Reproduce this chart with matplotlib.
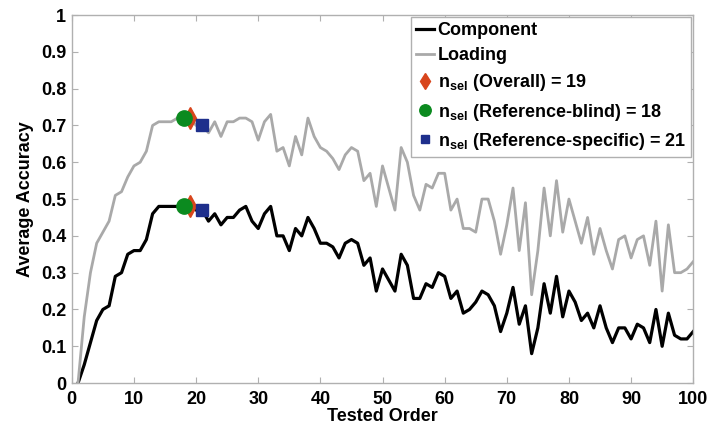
import numpy as np
import matplotlib
matplotlib.use("Agg")
import matplotlib.pyplot as plt

plt.rcParams['font.family'] = ['Liberation Sans', 'DejaVu Sans']
plt.rcParams['font.weight'] = 'bold'
plt.rcParams['mathtext.fontset'] = 'custom'
plt.rcParams['mathtext.rm'] = 'Liberation Sans:bold'
plt.rcParams['mathtext.bf'] = 'Liberation Sans:bold'
plt.rcParams['mathtext.default'] = 'rm'

# tested order 1..100
order = np.arange(1, 101)

component = [
    0.00, 0.05, 0.11, 0.17, 0.20, 0.21, 0.29, 0.30, 0.35, 0.36,
    0.36, 0.39, 0.46, 0.48, 0.48, 0.48, 0.48, 0.48, 0.48, 0.47,
    0.47, 0.44, 0.46, 0.43, 0.45, 0.45, 0.47, 0.48, 0.44, 0.42,
    0.46, 0.48, 0.40, 0.40, 0.36, 0.42, 0.40, 0.45, 0.42, 0.38,
    0.38, 0.37, 0.34, 0.38, 0.39, 0.38, 0.32, 0.34, 0.25, 0.31,
    0.28, 0.25, 0.35, 0.32, 0.23, 0.23, 0.27, 0.26, 0.30, 0.29,
    0.23, 0.25, 0.19, 0.20, 0.22, 0.25, 0.24, 0.21, 0.14, 0.19,
    0.26, 0.16, 0.21, 0.08, 0.15, 0.27, 0.19, 0.29, 0.18, 0.25,
    0.22, 0.17, 0.19, 0.15, 0.21, 0.15, 0.11, 0.15, 0.15, 0.12,
    0.16, 0.15, 0.11, 0.20, 0.10, 0.19, 0.13, 0.12, 0.12, 0.14,
]

loading = [
    0.00, 0.18, 0.30, 0.38, 0.41, 0.44, 0.51, 0.52, 0.56, 0.59,
    0.60, 0.63, 0.70, 0.71, 0.71, 0.71, 0.72, 0.72, 0.72, 0.70,
    0.70, 0.68, 0.71, 0.67, 0.71, 0.71, 0.72, 0.72, 0.71, 0.66,
    0.71, 0.73, 0.63, 0.64, 0.59, 0.67, 0.62, 0.72, 0.67, 0.64,
    0.63, 0.61, 0.58, 0.62, 0.64, 0.63, 0.55, 0.57, 0.48, 0.59,
    0.53, 0.47, 0.64, 0.60, 0.51, 0.47, 0.54, 0.53, 0.57, 0.57,
    0.47, 0.50, 0.42, 0.42, 0.41, 0.50, 0.50, 0.44, 0.35, 0.43,
    0.53, 0.36, 0.49, 0.24, 0.36, 0.53, 0.40, 0.55, 0.41, 0.50,
    0.44, 0.38, 0.45, 0.35, 0.42, 0.36, 0.31, 0.39, 0.40, 0.34,
    0.39, 0.40, 0.32, 0.44, 0.25, 0.43, 0.30, 0.30, 0.31, 0.33,
]

n_overall = 19
n_blind = 18
n_specific = 21

fig = plt.figure(figsize=(7.11, 4.29), dpi=100)
ax = fig.add_axes([0.101, 0.107, 0.874, 0.858])

ax.plot(order, component, color='black', lw=2.3, label='Component', zorder=2)
ax.plot(order, loading, color='#a9a9a9', lw=2.0, label='Loading', zorder=2)

# selected orders, marked on both curves
both = [component, loading]
ax.plot([n_overall] * 2, [s[n_overall - 1] for s in both], ls='none', marker='d',
        ms=11, color='#d8451c', label=r'n$_{sel}$ (Overall) = %d' % n_overall, zorder=3)
ax.plot([n_blind] * 2, [s[n_blind - 1] for s in both], ls='none', marker='o',
        ms=11, color='#0b8a1f', label=r'n$_{sel}$ (Reference-blind) = %d' % n_blind, zorder=4)
ax.plot([n_specific] * 2, [s[n_specific - 1] for s in both], ls='none', marker='s',
        ms=8.5, color='#1e2f8c', label=r'n$_{sel}$ (Reference-specific) = %d' % n_specific, zorder=4)

ax.set_xlim(0, 100)
ax.set_ylim(0, 1)
ax.set_xticks(np.arange(0, 101, 10))
ax.set_yticks(np.arange(0, 1.01, 0.1))
ax.set_yticklabels(['0'] + ['%.1f' % v for v in np.arange(0.1, 0.95, 0.1)] + ['1'])
ax.tick_params(direction='in', top=True, right=True, length=4, labelsize=13,
               color='#b0b0b0')
ax.tick_params(axis='x', pad=6)
ax.tick_params(axis='y', pad=4)
for s in ax.spines.values():
    s.set_color('#b0b0b0')
    s.set_linewidth(1.0)

ax.set_xlabel('Tested Order', fontsize=13, fontweight='bold', labelpad=0)
ax.set_ylabel('Average Accuracy', fontsize=13, fontweight='bold', labelpad=5)

leg = ax.legend(loc='upper right', fontsize=13, handlelength=1.0, handletextpad=0.2,
                borderpad=0.3, labelspacing=0.45, borderaxespad=0.1, fancybox=False,
                framealpha=1, edgecolor='#b0b0b0', markerscale=0.75)
leg.get_frame().set_linewidth(1.0)

fig.savefig('out.png', dpi=100)
